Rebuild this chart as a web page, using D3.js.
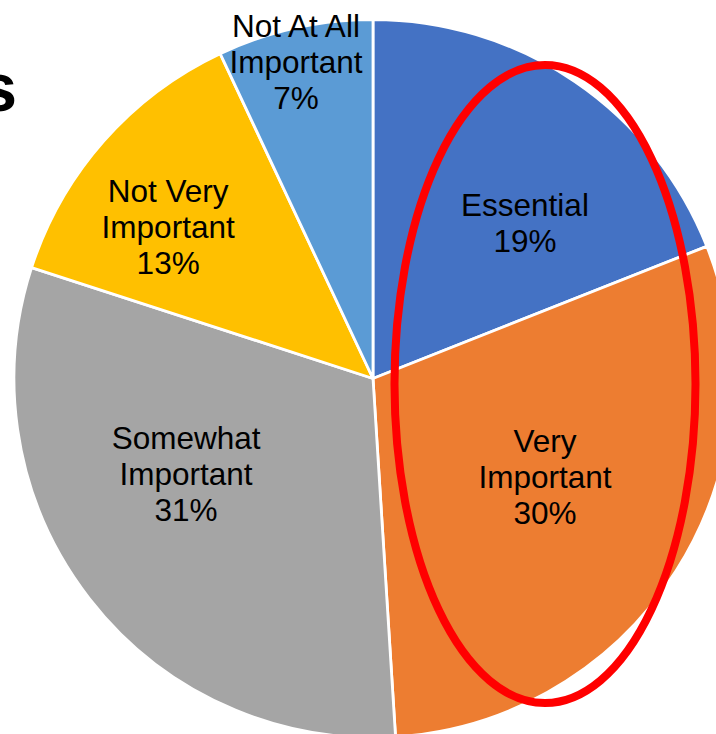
<!DOCTYPE html>
<html>
<head>
<meta charset="utf-8">
<script src="https://cdn.jsdelivr.net/npm/d3@7"></script>
<style>
  html, body { margin: 0; padding: 0; background: #fff; overflow: hidden; }
  svg { display: block; }
  text { font-family: "Liberation Sans", Arial, sans-serif; }
</style>
</head>
<body>
<svg id="chart" width="716" height="734"></svg>
<script>
// Survey responses: how important is it?
const categories = ["Essential", "Very Important", "Somewhat Important", "Not Very Important", "Not At All Important"];
const shares = [19, 30, 31, 13, 7];
const colors = ["#4472C4", "#ED7D31", "#A5A5A5", "#FFC000", "#5B9BD5"];
// label text broken into lines as printed inside each slice
const labelLines = [
  ["Essential"],
  ["Very", "Important"],
  ["Somewhat", "Important"],
  ["Not Very", "Important"],
  ["Not At All", "Important"]
];
const titleText = "s";

const width = 716, height = 734;
const cx = 373, cy = 378.5, radius = 359;

// where each label block sits: [angle in degrees clockwise from 12 o'clock, distance as share of radius]
const labelPolar = [
  [44.5, 0.604],
  [119.9, 0.553],
  [242.8, 0.5855],
  [306.4, 0.709],
  [346.3, 0.906]
];

const svg = d3.select("#chart");

const data = categories.map((c, i) => ({ category: c, value: shares[i], color: colors[i], lines: labelLines[i], polar: labelPolar[i] }));

const pie = d3.pie().sort(null).value(d => d.value).startAngle(0).endAngle(2 * Math.PI);
const arc = d3.arc().innerRadius(0).outerRadius(radius);

const g = svg.append("g").attr("transform", `translate(${cx},${cy})`);

g.selectAll("path.slice")
  .data(pie(data))
  .join("path")
  .attr("class", "slice")
  .attr("d", arc)
  .attr("fill", d => d.data.color)
  .attr("stroke", "#fff")
  .attr("stroke-width", 2.8)
  .attr("stroke-linejoin", "round");

// slice labels
const fontSize = 31.5, lineH = 36;
g.selectAll("text.label")
  .data(pie(data))
  .join("text")
  .attr("class", "label")
  .attr("text-anchor", "middle")
  .attr("font-size", fontSize)
  .attr("fill", "#000")
  .each(function (d) {
    const a = d.data.polar[0] * Math.PI / 180;
    const rr = d.data.polar[1] * radius;
    const x = rr * Math.sin(a);
    const y = -rr * Math.cos(a);
    const lines = d.data.lines.concat([d3.format(".0%")(d.data.value / 100)]);
    const n = lines.length;
    const t = d3.select(this);
    lines.forEach((ln, i) => {
      t.append("tspan")
        .attr("x", x)
        .attr("y", y + (i - (n - 1) / 2) * lineH + 10.5)
        .text(ln);
    });
  });

// highlight ring around the two top answers
svg.append("ellipse")
  .attr("cx", 545)
  .attr("cy", 384)
  .attr("rx", 150.5)
  .attr("ry", 319)
  .attr("fill", "none")
  .attr("stroke", "#FF0000")
  .attr("stroke-width", 8);

// tail of the slide title running in from the left
svg.append("text")
  .attr("x", 17)
  .attr("y", 110.5)
  .attr("text-anchor", "end")
  .attr("font-size", 68)
  .attr("font-weight", "bold")
  .attr("fill", "#000")
  .text(titleText);
</script>
</body>
</html>
